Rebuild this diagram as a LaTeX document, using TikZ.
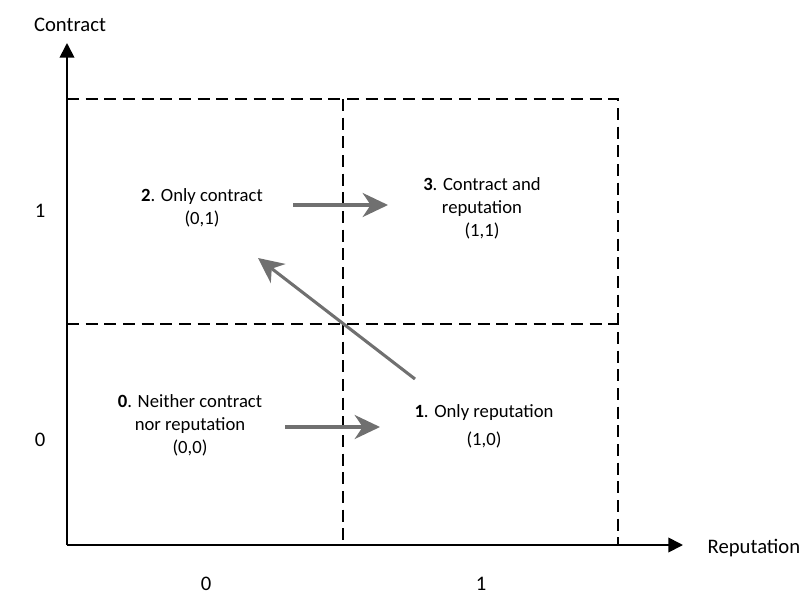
\documentclass[tikz,border=0pt]{standalone}
\usepackage{fontspec}
\setmainfont{Carlito}
\usepackage{xcolor}
\usepackage{tikz}
\usetikzlibrary{arrows.meta, positioning, calc}

\definecolor{arrowgray}{RGB}{112,112,112}

\begin{document}
\begin{tikzpicture}[
    x=0.75pt, y=-0.75pt,
    axis/.style={-{Triangle[length=11pt, width=11pt]}, line width=1.3pt},
    cell/.style={dash pattern=on 9pt off 5pt, line width=1.2pt},
    move/.style={-{Stealth[length=19pt, width=18pt, inset=6pt]}, line width=2.3pt, color=arrowgray},
    state/.style={align=center, font=\fontsize{14}{17.25}\selectfont},
    lbl/.style={font=\fontsize{15.5}{18}\selectfont},
]
    \useasboundingbox (0,0) rectangle (801,597);

    % axes
    \coordinate (origin) at (67,545);
    \coordinate (ytip) at (67,43);
    \coordinate (xtip) at (683,545);
    \draw[axis] (origin) -- (ytip);
    \draw[axis] (origin) -- (xtip);
    \node[lbl] (ylab) at (70,25) {Contract};
    \node[lbl, anchor=west] (xlab) at (703,548) {Reputation};

    \node[lbl] (y1) at (40,211) {1};
    \node[lbl] (y0) at (40,440) {0};
    \node[lbl] (x0) at (206,584) {0};
    \node[lbl] (x1) at (481,584) {1};

    % quadrants
    \draw[cell] (67,99) -- (618,99) -- (618,545);
    \draw[cell] (343,99) -- (343,545);
    \draw[cell] (67,324) -- (618,324);

    \node[state] (s0) at (190,425) {\textbf{0}. Neither contract\\nor reputation\\(0,0)};
    \node[state] (s1) at (484,426) {\textbf{1}. Only reputation\\[4pt](1,0)};
    \node[state] (s2) at (202,208) {\textbf{2}. Only contract\\(0,1)};
    \node[state] (s3) at (482,208) {\textbf{3}. Contract and\\reputation\\(1,1)};

    % moves
    \coordinate (m0a) at (285,427);
    \coordinate (m0b) at (380,427);
    \coordinate (m2a) at (293,205);
    \coordinate (m2b) at (388,205);
    \coordinate (m1a) at (415,379);
    \coordinate (m1b) at (258,258);
    \draw[move] (m0a) -- (m0b);
    \draw[move] (m2a) -- (m2b);
    \draw[move] (m1a) -- (m1b);
\end{tikzpicture}
\end{document}
